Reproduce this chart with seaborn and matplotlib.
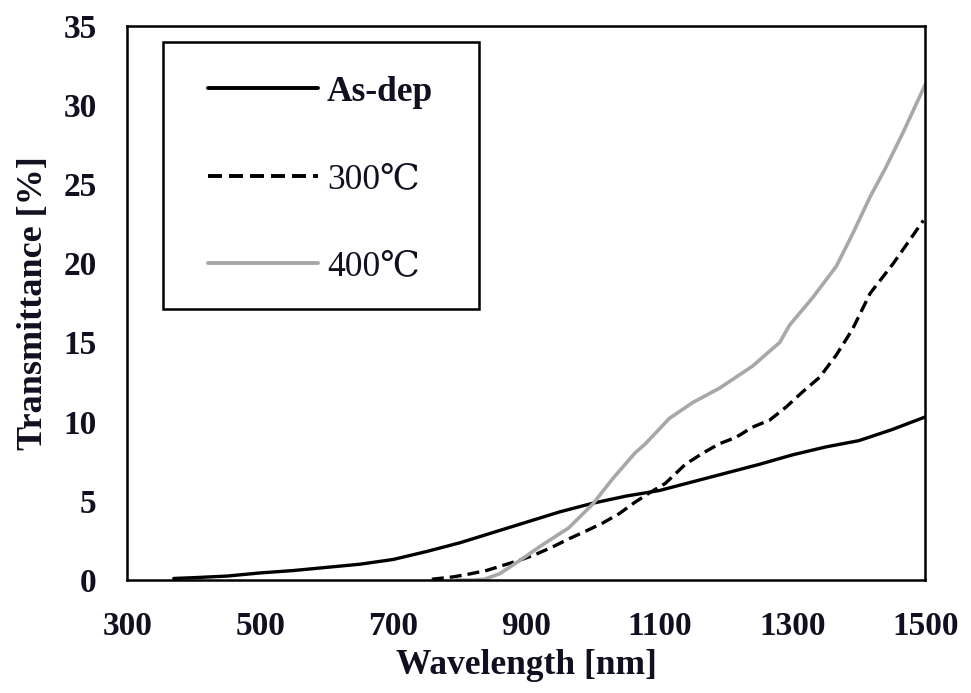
import matplotlib
matplotlib.use("Agg")
import matplotlib.pyplot as plt
from matplotlib.patches import Rectangle
import seaborn as sns
import pandas as pd

# ---- data ----
asdep_x = [370, 400, 450, 500, 550, 600, 650, 700, 750, 800, 850, 900, 950, 1000,
           1050, 1100, 1150, 1200, 1250, 1300, 1350, 1400, 1450, 1500]
asdep_y = [0.1, 0.15, 0.25, 0.45, 0.6, 0.8, 1.0, 1.3, 1.8, 2.35, 3.0, 3.65, 4.3, 4.85,
           5.3, 5.65, 6.2, 6.75, 7.3, 7.9, 8.4, 8.8, 9.5, 10.3]

d300_x = [758, 790, 813, 840, 863, 890, 913, 940, 964, 990, 1015, 1040, 1063, 1085,
          1109, 1139, 1165, 1190, 1215, 1240, 1266, 1290, 1316, 1341, 1366, 1390,
          1417, 1452, 1497]
d300_y = [0.05, 0.2, 0.37, 0.6, 0.9, 1.25, 1.6, 2.1, 2.6, 3.1, 3.6, 4.2, 4.9, 5.5,
          6.1, 7.3, 8.0, 8.6, 9.0, 9.65, 10.1, 10.9, 11.9, 12.8, 14.2, 15.8,
          18.1, 20.0, 22.7]

g400_x = [795, 820, 837, 860, 889, 920, 964, 1000, 1030, 1063, 1079, 1115, 1150, 1190,
          1240, 1281, 1296, 1330, 1366, 1390, 1417, 1440, 1467, 1500]
g400_y = [0.0, 0.0, 0.05, 0.4, 1.2, 2.1, 3.3, 4.8, 6.4, 8.0, 8.6, 10.2, 11.2, 12.1,
          13.5, 15.0, 16.1, 17.8, 19.8, 21.8, 24.2, 26.0, 28.3, 31.3]

labels = ["As-dep", "300\u2103", "400\u2103"]
x_ticks = [300, 500, 700, 900, 1100, 1300, 1500]
y_ticks = [0, 5, 10, 15, 20, 25, 30, 35]

sns.set_theme(style="white")
plt.rcParams["font.family"] = ["Liberation Serif", "DejaVu Serif", "Noto Sans CJK JP"]

fig = plt.figure(figsize=(9.71, 6.93), dpi=100)
ax = fig.add_axes([0.131, 0.163, 0.822, 0.800])

df1 = pd.DataFrame({"x": asdep_x, "y": asdep_y})
df2 = pd.DataFrame({"x": d300_x, "y": d300_y})
df3 = pd.DataFrame({"x": g400_x, "y": g400_y})

sns.lineplot(data=df1, x="x", y="y", ax=ax, color="black", lw=2.4, label=labels[0])
sns.lineplot(data=df2, x="x", y="y", ax=ax, color="black", lw=2.4, label=labels[1])
ax.lines[-1].set_dashes([3.6, 1.8])
sns.lineplot(data=df3, x="x", y="y", ax=ax, color="#a8a8a8", lw=2.6, label=labels[2])

ax.set_xlim(300, 1500)
ax.set_ylim(0, 35)
ax.set_xticks(x_ticks)
ax.set_yticks(y_ticks)
ax.tick_params(direction="in", length=8, width=1.6, top=False, right=False,
               labelsize=24, colors="black")
ax.tick_params(axis="y", pad=22)
ax.tick_params(axis="x", pad=22)
for lab in ax.get_xticklabels() + ax.get_yticklabels():
    lab.set_fontweight("bold")
    lab.set_color("#101020")
for sp in ax.spines.values():
    sp.set_visible(True)
    sp.set_color("black")
    sp.set_linewidth(1.8)

ax.set_xlabel("Wavelength [nm]", fontsize=25.5, fontweight="bold", color="#101020", labelpad=5)
ax.set_ylabel("Transmittance [%]", fontsize=26, fontweight="bold", color="#101020", labelpad=10)

# legend frame drawn as a separate rectangle (axes coordinates)
ax.add_patch(Rectangle((0.045, 0.489), 0.396, 0.482, transform=ax.transAxes,
                       fill=False, edgecolor="black", lw=1.8, zorder=5))
leg = ax.legend(loc="upper left", bbox_to_anchor=(0.1015, 0.91), fontsize=25.5,
                frameon=False, handlelength=3.1, handletextpad=0.25,
                labelspacing=1.54, borderpad=0, borderaxespad=0)
for i, t in enumerate(leg.get_texts()):
    t.set_fontweight("bold" if i == 0 else "normal")
    t.set_color("#101020")
for h in leg.get_lines():
    h.set_linewidth(2.8)

fig.savefig("out.png", dpi=100, facecolor="white")
